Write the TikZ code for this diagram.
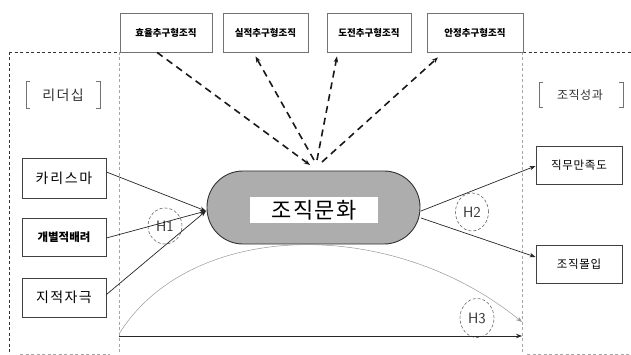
\documentclass[tikz,border=0pt]{standalone}
\usepackage{fontspec}
\setmainfont{Noto Sans CJK KR}
\usetikzlibrary{arrows.meta,shapes.geometric}
\tikzset{
  box/.style={draw=black!75, line width=0.9pt, fill=white, inner sep=0pt, align=center},
  topbox/.style={draw=black!55, line width=0.8pt, fill=white, inner sep=0pt, font=\fontsize{9.5}{11}\selectfont\bfseries, minimum height=39pt},
  lbox/.style={box, minimum width=84pt},
  rbox/.style={box, minimum width=86pt, minimum height=38pt, font=\fontsize{11.5}{13}\selectfont\addfontfeatures{LetterSpace=6}},
  hyp/.style={draw=black!60, densely dashed, line width=0.6pt, ellipse, inner sep=0pt, font=\sffamily\fontsize{15}{16}\selectfont, text=black!80},
  tip/.style={-{Stealth[length=6pt,width=4.5pt]}},
  conn/.style={tip, line width=0.7pt, black!85},
  dconn/.style={tip, line width=1.6pt, dash pattern=on 7pt off 5pt, black!90},
  frame/.style={dash pattern=on 3pt off 2.5pt, line width=0.9pt, black!80},
  iframe/.style={dash pattern=on 3pt off 2.5pt, line width=0.6pt, black!35},
  brk/.style={line width=0.9pt, black!55},
}
\begin{document}
\begin{tikzpicture}[x=1pt, y=-1pt]
\useasboundingbox (0,0) rectangle (631,355);
\fill[white] (0,0) rectangle (631,355);
% frame
\draw[frame] (9,52) -- (120,52);
\draw[frame] (523,52) -- (631,52);
\draw[frame] (9,52) -- (9,355);
\draw[iframe] (119,52) -- (119,355);
\draw[iframe] (522,52) -- (522,355);
\draw[iframe] (20,354) -- (110,354);
\draw[iframe] (527,354) -- (631,354);
% top boxes
\node[topbox, minimum width=92pt] (b1) at (166,32.5) {효율추구형조직};
\node[topbox, minimum width=85pt] (b2) at (265.5,32.5) {실적추구형조직};
\node[topbox, minimum width=84pt] (b3) at (369,32.5) {도전추구형조직};
\node[topbox, minimum width=96pt] (b4) at (475,32.5) {안정추구형조직};
% bracket labels
\node[font=\fontsize{14}{16}\selectfont\addfontfeatures{LetterSpace=10}, text=black!80] (lead) at (63,95) {리더십};
\draw[brk] (30,81) -- (26,81) -- (26,108) -- (30,108);
\draw[brk] (96,81) -- (100,81) -- (100,108) -- (96,108);
\node[font=\fontsize{12}{14}\selectfont\addfontfeatures{LetterSpace=4}, text=black!80] (perf) at (580,95) {조직성과};
\draw[brk] (543,82) -- (539,82) -- (539,107) -- (543,107);
\draw[brk] (619,82) -- (623,82) -- (623,107) -- (619,107);
% left boxes
\node[lbox, minimum height=40pt, font=\fontsize{14}{16}\selectfont\addfontfeatures{LetterSpace=12}] (car) at (64,178) {카리스마};
\node[lbox, minimum height=38pt, font=\fontsize{11.5}{13}\selectfont\bfseries] (ind) at (64,237) {개별적배려};
\node[lbox, minimum height=39pt, font=\fontsize{14}{16}\selectfont\addfontfeatures{LetterSpace=10}] (int) at (64,297.5) {지적자극};
% central pill
\node[draw=black!80, line width=0.9pt, fill=black!32, rounded corners=36pt, minimum width=213pt, minimum height=73pt] (cult) at (313.5,207.5) {};
\node[fill=white, minimum width=128pt, minimum height=26pt, inner sep=0pt, font=\fontsize{22}{24}\selectfont\addfontfeatures{LetterSpace=6}] (cultlbl) at (314,210) {조직문화};
% right boxes
\node[rbox] (job) at (579,165) {직무만족도};
\node[rbox] (com) at (579,264) {조직몰입};
% hypothesis marks
\node[hyp, minimum width=34pt, minimum height=36pt] (h1) at (165,226) {H1};
\node[hyp, minimum width=33pt, minimum height=38pt] (h2) at (472,212) {H2};
\node[hyp, minimum width=34pt, minimum height=39pt] (h3) at (477,318) {H3};
% connector ends
\coordinate (cin) at (206,211);
\coordinate (ctop) at (310,165);
\coordinate (cr1) at (421,211);
\coordinate (cr2) at (421,218);
\coordinate (bl) at (119,336);
\coordinate (br) at (522,336);
\coordinate (cl) at (119,334);
\coordinate (ce) at (522,322);
% left connectors
\draw[conn] ([yshift=6pt]car.east) -- (cin);
\draw[conn] ([yshift=-1pt]ind.east) -- (cin);
\draw[conn] ([yshift=3pt]int.east) -- (cin);
% right connectors
\draw[conn] (cr1) -- ([yshift=-1pt]job.west);
\draw[conn] (cr2) -- ([yshift=7pt]com.west);
% top dashed connectors
\draw[dconn] ([xshift=-9pt]b1.south) -- (ctop);
\draw[dconn] (314,160) -- ([xshift=-10pt,yshift=-4pt]b2.south);
\draw[dconn] (317,160) -- ([xshift=-32pt,yshift=-4pt]b3.south);
\draw[dconn] (322,162) -- ([xshift=-37pt,yshift=-5pt]b4.south);
% bottom
\draw[conn, line width=0.8pt] (bl) -- (br);
\draw[tip, line width=0.5pt, black!40] (cl) .. controls (190,220) and (390,215) .. (ce);
\end{tikzpicture}
\end{document}
